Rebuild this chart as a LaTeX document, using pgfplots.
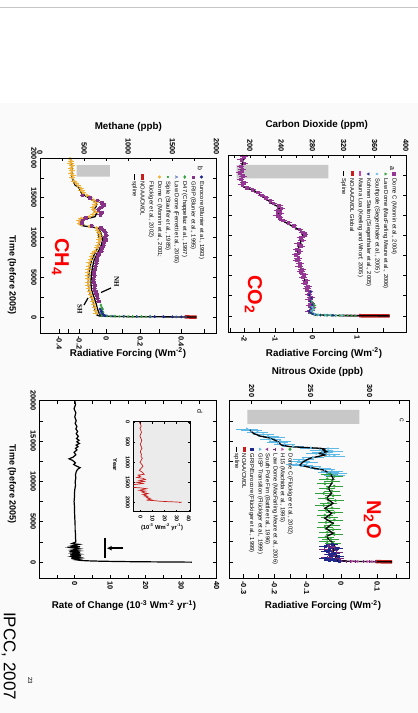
\documentclass[border=0pt]{standalone}
\usepackage{pgfplots}
\pgfplotsset{compat=1.18}
\usepackage{fontspec}
\setmainfont{Liberation Sans}
\newfontfamily\seriffont{Liberation Serif}
\usetikzlibrary{arrows.meta}
\definecolor{cpurple}{RGB}{150,55,150}
\definecolor{cgreen}{RGB}{50,160,60}
\definecolor{ccyan}{RGB}{95,185,230}
\definecolor{cdblue}{RGB}{30,40,140}
\definecolor{cmag}{RGB}{200,70,170}
\definecolor{cred}{RGB}{200,30,30}
\definecolor{corange}{RGB}{240,180,60}
\definecolor{cgpurple}{RGB}{135,50,135}
\definecolor{cblue}{RGB}{50,80,170}
\definecolor{npurple}{RGB}{120,40,120}
\definecolor{grayrect}{RGB}{200,200,200}
\newcommand\ftk{\bfseries\fontsize{7.4}{8}\selectfont}
\newcommand\flab{\bfseries\fontsize{9.8}{11}\selectfont}
\newcommand\ftlab{\bfseries\fontsize{9}{10}\selectfont}
\newcommand\flg{\fontsize{5.8}{6}\selectfont}
\newcommand\fbig{\bfseries\fontsize{20}{22}\selectfont}
\pgfplotsset{
  panel/.style={scale only axis, anchor=south west, ymin=-2000, ymax=20000,
    scaled ticks=false,
    tick align=inside, major tick length=3.5pt, minor tick length=3.5pt,
    ytick={0,5000,10000,15000,20000}, minor ytick={2500,7500,12500,17500},
    tick style={line width=0.6pt, black}, axis line style={line width=0.8pt},
    yticklabels={}, ytick pos=both, ticklabel style={font=\ftk}},
  rfaxis/.style={scale only axis, anchor=south west, ymin=-2000, ymax=20000, hide y axis,
    scaled ticks=false,
    xtick pos=left, xticklabel pos=left, tick align=inside, major tick length=3.5pt,
    minor tick length=3.5pt, tick style={line width=0.6pt,black}, axis line style={line width=0.8pt},
    xticklabel style={rotate=-90, anchor=west, font=\ftk}},
  timelabels/.style={yticklabels={0,5000,10000,15000,20000}, yticklabel style={rotate=-90, anchor=north}},
}
\begin{document}
\begin{tikzpicture}
\useasboundingbox (0,0) rectangle (418pt,713pt);
\fill[white] (0,0) rectangle (418pt,713pt);
\fill[black!2] (0,0) rectangle (418pt,610pt);
\draw[gray!45, line width=0.8pt] (0,706pt) -- (418pt,706pt);

% ================= CO2 =================
\begin{axis}[panel, at={(228pt,381pt)}, width=178pt, height=177pt,
  xmin=172, xmax=400, xtick={200,240,280,320,360,400}, xticklabels={200,240,280,320,360,400},
  minor xtick={180,220,260,300,340,380}, xtick pos=right, xticklabel pos=right,
  xticklabel style={rotate=-90, anchor=east}]
\addplot[fill=grayrect, draw=none] coordinates {(183.1,18758) (300.5,18758) (300.5,17105) (183.1,17105) (183.1,18758)};
\addplot[only marks, mark=square*, mark size=1.3pt, cpurple, error bars/.cd, x dir=both, x fixed=5, error mark=none, error bar style={line width=0.8pt}] coordinates {
(192,19800) (189,19400) (193,19000) (188,18600) (190,18200) (187,17800) (191,17400) (188,17000) (192,16600) (190,16300) (196,15950) (203,15700) (210,15400) (215,15000) (220,14700) (226,14300) (230,14000) (237,13700) (240,13400) (236,13100) (239,12800) (235,12500) (238,12200) (242,11900) (249,11600) (256,11200) (263,10800) (268,10400) (270,10100) (265,9700) (267,9400) (262,9000) (265,8700) (260,8300) (263,8000) (259,7600) (262,7200) (260,6900) (264,6500) (263,6200) (267,5800) (265,5500) (269,5100) (268,4800) (272,4400) (270,4100) (274,3700) (273,3400) (276,3000) (275,2700) (278,2300) (276,2000) (279,1600) (277,1300) (280,1000) (278,700) (276,500)};
\addplot[only marks, mark=triangle*, mark size=1.3pt, cgreen, mark options={rotate=-90}] coordinates {
(279,1800) (281,1500) (283,1300) (278,1100) (282,900) (280,700) (279,500) (277,400) (280,300) (283,200) (284,150) (287,120) (291,100) (296,90) (300,80) (305,70) (310,58) (315,50) (320,42) (325,35) (330,28) (335,22)};
\addplot[only marks, mark=triangle*, mark size=1.2pt, cdblue, mark options={rotate=90}] coordinates {
(278,3000) (276,2600) (279,2200) (277,1800) (280,1400) (278,1000) (276,600) (278,400) (281,250) (284,160) (290,105) (298,85) (306,65)};
\addplot[only marks, mark=asterisk, mark size=1.3pt, ccyan] coordinates {
(280,1100) (281,800) (279,600) (283,250) (288,150) (297,110) (303,95) (310,70) (318,48)};
\addplot[cmag, line width=2pt] coordinates {(316,47) (325,36) (331,30) (339,22) (346,17) (354,12) (361,8) (369,5) (375,2) (379,0)};
\addplot[cred, line width=3.5pt] coordinates {(340,21) (350,14) (360,9) (370,4) (379,0)};
\addplot[black, line width=1.3pt] coordinates {
(190.5,20000) (191.5,19500) (189.5,18500) (188.5,17800) (189.5,17300) (190,16800) (191.5,16100) (195,15900) (204,15650) (211,15250) (217,14820) (223,14400) (228,14000) (236,13580) (238.5,13200) (237,12800) (236.5,12330) (240.5,11920) (248,11500) (255.5,11090) (264,10680) (268.5,10270) (267,9800) (266,9430) (263.5,8800) (262,8190) (261,7500) (262,6950) (264,6300) (266.5,5700) (268.5,5000) (270.5,4460) (273,3800) (275,3220) (276,2600) (277,1980) (278.5,1500) (279.5,1150) (278.5,800) (277.5,520) (279,300) (281,200) (283,170) (285,140) (290,110) (296,95) (300,80) (311,55) (325,38) (338,25) (355,12) (370,4) (379,0)};
% legend markers
\addplot[only marks, mark=square*, mark size=1.3pt, cpurple] coordinates {(384.6,17639)};
\addplot[only marks, mark=triangle*, mark size=1.4pt, cgreen, mark options={rotate=-90}] coordinates {(373.7,17639)};
\addplot[only marks, mark=asterisk, mark size=1.4pt, ccyan] coordinates {(362.9,17639)};
\addplot[only marks, mark=triangle*, mark size=1.4pt, cdblue, mark options={rotate=90}] coordinates {(352.0,17639)};
\addplot[cmag, line width=1.8pt] coordinates {(341.5,17950) (341.5,17330)};
\addplot[cred, line width=3.2pt] coordinates {(331.1,17950) (331.1,17330)};
\addplot[black, line width=1.6pt] coordinates {(320.1,17950) (320.1,17330)};
\end{axis}
\begin{axis}[rfaxis, at={(228pt,381pt)}, width=178pt, height=177pt, xmin=172, xmax=400,
  xtick={192.7,232.3,280,337.5}, xticklabels={-2,-1,0,1}, minor xtick={175.4,211.6,255.0,307.4,370.5}]
\end{axis}

% ================= CH4 =================
\begin{axis}[panel, timelabels, at={(40pt,380pt)}, width=176.5pt, height=175pt,
  xmin=0, xmax=2000, xtick={0,500,1000,1500,2000}, xticklabels={0,500,1000,1500,2000},
  minor xtick={250,750,1250,1750}, xtick pos=right, xticklabel pos=right,
  xticklabel style={rotate=-90, anchor=east}]
\addplot[fill=grayrect, draw=none] coordinates {(416,19118) (793,19118) (793,17647) (416,17647) (416,19118)};
\addplot[only marks, mark=*, mark size=1.5pt, corange, error bars/.cd, x dir=both, x fixed=35, error mark=none, error bar style={line width=1pt}] coordinates {
(340,19900) (355,19600) (345,19300) (365,19000) (350,18700) (360,18400) (355,18100) (370,17800) (365,17500) (385,17100) (410,16800) (430,16500) (460,16200) (470,15900) (490,15600) (530,15300) (570,15000) (610,14700) (630,14400) (625,14100) (600,13800) (610,13500) (630,13200) (600,12900) (560,12600) (470,12400) (445,12100) (450,11800) (470,11600) (560,11400) (640,11200) (655,10900) (670,10600) (680,10300) (685,10000) (675,9700) (670,9400) (660,9000) (645,8700) (625,8300) (600,8000) (585,7600) (575,7200) (560,6800) (555,6400) (550,6000) (545,5600) (540,5200) (545,4800) (550,4400) (545,4000) (555,3600) (565,3200) (575,2800) (590,2400) (600,2000) (615,1600) (625,1200) (630,800) (640,500)};
\addplot[only marks, mark=square*, mark size=1.3pt, cgpurple, error bars/.cd, x dir=both, x fixed=30, error mark=none, error bar style={line width=0.8pt}] coordinates {
(480,15300) (560,15000) (650,14700) (700,14400) (720,14100) (690,13800) (660,13500) (700,13200) (680,12900) (520,12500) (480,12200) (470,11900) (580,11500) (690,11200) (720,10900) (740,10600) (750,10300) (730,10000) (745,9700) (720,9400) (715,9000) (700,8700) (690,8300) (665,8000) (650,7600) (640,7200) (635,6800) (625,6400) (620,6000) (610,5600) (615,5200) (605,4800) (610,4400) (620,4000) (615,3600) (630,3200) (640,2800) (650,2400) (665,2000)};
\addplot[only marks, mark=diamond*, mark size=1.3pt, cgreen] coordinates {
(690,1500) (700,1200) (710,1000) (695,800) (715,600) (705,400) (720,300) (700,200) (760,150) (850,110) (950,85) (1050,70) (1150,60) (1250,50)};
\addplot[only marks, mark=*, mark size=0.9pt, cgreen] coordinates {(800,100) (900,80) (1000,65) (1100,55) (1200,45)};
\addplot[only marks, mark=triangle, mark size=1.3pt, cblue, mark options={rotate=-90}] coordinates {
(690,900) (700,700) (680,500) (720,250) (750,180) (820,120) (950,90) (1100,70) (1250,55) (1400,40) (1550,28) (1650,18)};
\addplot[only marks, mark=*, mark size=1.2pt, cdblue] coordinates {(680,1000) (695,700) (710,400) (730,200) (1300,50) (1400,45) (1500,35) (1600,25)};
\addplot[cred, line width=3.5pt] coordinates {(1640,20) (1700,10) (1775,0)};
\addplot[black, line width=1.3pt] coordinates {
(345,20000) (355,19400) (360,18900) (362,18300) (360,17650) (375,17200) (397,16600) (440,16300) (455,16000) (472,15560) (520,15200) (567,14930) (623,14500) (642,14200) (635,13880) (604,13460) (642,13050) (623,12620) (560,12450) (470,12250) (453,12000) (455,11600) (500,11450) (600,11300) (661,11160) (690,10530) (709,9690) (700,9200) (690,8850) (652,8020) (614,7180) (596,6330) (582,5300) (577,4250) (585,3400) (610,2560) (635,1730) (655,890) (680,263) (700,150) (740,120) (820,90) (920,70) (1020,55) (1170,45) (1320,35) (1520,22) (1660,12) (1774,0)};
\addplot[black, line width=1.3pt] coordinates {
(661,11160) (660,10530) (679,9690) (670,9200) (660,8850) (622,8020) (584,7180) (566,6330) (552,5300) (547,4250) (555,3400) (580,2560) (605,1730) (625,890) (645,263) (670,150) (700,120)};
% legend markers
\addplot[only marks, mark=*, mark size=1.4pt, cdblue] coordinates {(1830,17609)};
\addplot[only marks, mark=square*, mark size=1.3pt, cgpurple] coordinates {(1735,17609)};
\addplot[only marks, mark=diamond*, mark size=1.5pt, cgreen] coordinates {(1640,17609)};
\addplot[only marks, mark=triangle, mark size=1.5pt, cblue, mark options={rotate=-90}] coordinates {(1544,17609)};
\addplot[only marks, mark=*, mark size=0.9pt, cgreen] coordinates {(1449,17609)};
\addplot[only marks, mark=*, mark size=1.4pt, corange] coordinates {(1354,17609)};
\addplot[cred, line width=3.2pt] coordinates {(1164,17950) (1164,17270)};
\addplot[black, line width=1.6pt] coordinates {(1069,17950) (1069,17270)};
\end{axis}
\begin{axis}[rfaxis, at={(40pt,380pt)}, width=176.5pt, height=175pt, xmin=0, xmax=2000,
  xtick={218.6,444.6,750,1134.7,1598.9}, xticklabels={-0.4,-0.2,0,0.2,0.4}, minor xtick={321.7,587.4,932.4,1356.9,1860.7}]
\end{axis}

% ================= N2O =================
\begin{axis}[panel, at={(229pt,135pt)}, width=180pt, height=177.3pt,
  xmin=180.8, xmax=333.3, xtick={200,250,300}, xticklabels={200,250,300},
  minor xtick={225,275,325}, xtick pos=right, xticklabel pos=right,
  xticklabel style={rotate=-90, anchor=east}]
\addplot[fill=grayrect, draw=none] coordinates {(196.3,18849) (291.2,18849) (291.2,17111) (196.3,17111) (196.3,18849)};
\addplot[only marks, mark=triangle*, mark size=1.3pt, ccyan, mark options={rotate=-90}, error bars/.cd, x dir=both, x fixed=9, error mark=none, error bar style={line width=0.6pt}] coordinates {
(196,16500) (200,16300) (205,16100) (210,15800) (214,15600) (219,15400) (216,15200) (224,15000) (222,14800) (228,14600) (235,14350) (250,14150) (265,14050) (258,13900) (268,13750) (260,13600) (255,13450) (266,13300) (270,13150) (252,12950) (244,12700) (240,12500) (247,12300) (238,12100) (243,11950) (250,11800) (258,11600) (262,11450) (268,11250) (265,11100) (272,10950) (270,10800)};
\addplot[only marks, mark=*, mark size=1.2pt, cgreen, error bars/.cd, x dir=both, x fixed=7, error mark=none, error bar style={line width=0.6pt}] coordinates {
(266,10900) (270,10600) (264,10300) (268,10000) (262,9700) (270,9400) (264,9100) (268,8800) (261,8500) (269,8200) (263,7900) (271,7600) (265,7300) (261,7000) (268,6700) (263,6400) (270,6100) (262,5800) (266,5500) (270,5200) (263,4900) (268,4600) (262,4300) (269,4000) (264,3700) (270,3400) (263,3100) (267,2800) (264,2500) (269,2300)};
\addplot[only marks, mark=+, mark size=1.4pt, npurple, thick, error bars/.cd, x dir=both, x fixed=5, error mark=none] coordinates {
(265,2000) (270,1800) (262,1600) (268,1400) (272,1200) (266,1000) (270,800) (264,600) (273,500) (268,400) (271,300) (275,200) (270,150) (276,120) (280,90) (284,75) (288,60) (295,45) (300,35) (305,25)};
\addplot[only marks, mark=square*, mark size=1.1pt, cdblue, error bars/.cd, x dir=both, x fixed=5, error mark=none] coordinates {
(268,2200) (262,1900) (272,1700) (266,1500) (264,1300) (270,1100) (267,900) (273,700) (262,500) (269,350) (271,250) (266,200) (274,100)};
\addplot[only marks, mark=triangle*, mark size=1.2pt, cmag, mark options={rotate=-90}] coordinates {(285,70) (290,55) (298,40) (302,30)};
\addplot[cred, line width=3.5pt] coordinates {(305,25) (312,12) (319,0)};
\addplot[black, line width=1.3pt] coordinates {
(198.6,16370) (201.4,15960) (207,15620) (214,15410) (218,15210) (222.5,14915) (225,14505) (232.5,14294) (258,14096) (262,14000) (260.7,13885) (263.6,13674) (257.9,13475) (262,13264) (249.4,12855) (243.7,12433) (241,12023) (246.6,11812) (260.7,11403) (266.4,10993) (269,10373) (267.8,9752) (265,9132) (267.8,8511) (263.3,7891) (269,7270) (262,6650) (267.8,6029) (262,5409) (269,4788) (263,4168) (269,3547) (263,3125) (267.8,2504) (270.6,1884) (269,1264) (272,643) (270,270) (273,150) (280,90) (290,55) (300,35) (310,18) (317,5) (319,0)};
% legend markers
\addplot[only marks, mark=*, mark size=1.4pt, cgreen] coordinates {(232.5,13972)};
\addplot[only marks, mark=triangle*, mark size=1.4pt, cmag, mark options={rotate=-90}] coordinates {(225.9,13972)};
\addplot[only marks, mark=+, mark size=1.5pt, npurple, thick] coordinates {(219.7,13972)};
\addplot[only marks, mark=triangle*, mark size=1.4pt, cpurple, mark options={rotate=90}] coordinates {(213.2,13972)};
\addplot[only marks, mark=triangle*, mark size=1.4pt, ccyan, mark options={rotate=-90}] coordinates {(207.0,13972)};
\addplot[only marks, mark=square*, mark size=1.3pt, cdblue] coordinates {(200.0,13972)};
\addplot[cred, line width=3.2pt] coordinates {(193.7,14300) (193.7,13640)};
\addplot[black, line width=1.6pt] coordinates {(187.3,14300) (187.3,13640)};
\end{axis}
\begin{axis}[rfaxis, at={(229pt,135pt)}, width=180pt, height=177.3pt, xmin=180.8, xmax=333.3,
  xtick={193.3,219.2,246.6,275.7,306.4}, xticklabels={-0.3,-0.2,-0.1,0,0.1}, minor xtick={206.0,232.7,260.95,290.8,322.3}]
\end{axis}

% ================= Rate of change =================
\begin{axis}[panel, timelabels, at={(39.3pt,134.7pt)}, width=177.4pt, height=177.6pt,
  xmin=-10, xmax=40, xtick={0,10,20,30,40}, xticklabels={0,10,20,30,40},
  minor xtick={-5,5,15,25,35}, xtick pos=both, xticklabel pos=left,
  xticklabel style={rotate=-90, anchor=west}]
\addplot[black, line width=1.2pt] coordinates {
(0,20000) (0.2,19500) (-0.2,19000) (0.3,18500) (0,18000) (0.4,17500) (0.1,17200) (0.6,16800) (0.3,16500) (0.8,16200) (0.4,15900) (1.0,15600) (0.5,15300) (1.2,15100) (0.6,14900) (1.3,14700) (0.4,14500) (0.9,14300) (0.2,14100) (0.6,13900) (-0.2,13600) (0.3,13300) (-0.5,13000) (-1.6,12800) (-0.6,12600) (0.2,12300) (-0.3,12100) (0.5,11900) (1.5,11700) (0.8,11500) (0.4,11200) (0.2,10800) (0.3,10400) (0.1,10000) (0.2,9500) (0,9000) (-0.1,8500) (-0.1,8000) (-0.2,7500) (-0.1,7000) (-0.1,6500) (-0.05,6000) (0,5500) (0.05,5000) (0.1,4500) (0.1,4000) (0.2,3500) (0.2,3000) (0.3,2500) (-0.8,2300) (1.2,2200) (-1,2000) (1.5,1900) (-1.2,1800) (1.3,1650) (-0.8,1500) (1.0,1400) (-1.5,1300) (1.5,1200) (-0.5,1100) (1.2,1000) (-1.3,900) (1.8,800) (-0.6,700) (1.2,600) (-1.0,500) (1.5,400) (0.2,300) (1.0,250) (2,200) (4,160) (7,120) (12,80) (18,50) (25,25) (30,10) (33,0)};
\draw[line width=1.8pt] (axis cs:8.5,2970) -- (axis cs:8.5,480);
\draw[-{Latex[length=5pt,width=5pt]}, line width=1.5pt] (axis cs:13.7,1730) -- (axis cs:9.0,1730);
\end{axis}
\begin{axis}[scale only axis, anchor=south west, at={(133.3pt,201.3pt)}, width=56.7pt, height=90pt,
  xmin=-6, xmax=41, ymin=-15, ymax=2235, y dir=reverse, scaled ticks=false,
  axis background/.style={fill=gray!16},
  tick align=inside, major tick length=2pt, tick style={line width=0.5pt, black},
  axis line style={line width=0.7pt},
  xtick={0,10,20,30,40}, xticklabels={0,10,20,30,40},
  ytick={0,500,1000,1500,2000}, yticklabels={0,500,1000,1500,2000},
  xtick pos=both, ytick pos=both, xticklabel pos=left, yticklabel pos=left,
  xticklabel style={rotate=-90, anchor=west, font=\bfseries\fontsize{5.5}{6}\selectfont},
  yticklabel style={rotate=-90, anchor=north, font=\bfseries\fontsize{5.5}{6}\selectfont}]
\addplot[cred, line width=0.7pt] coordinates {
(-1,0) (0,50) (0.5,100) (-0.5,150) (0.2,200) (0.8,250) (0,300) (-0.5,350) (0.3,400) (1,450) (0.5,500) (-0.3,550) (0.5,600) (1.2,650) (0.2,700) (-0.2,750) (0.8,800) (0.3,850) (1.5,900) (0.5,950) (-0.5,1000) (1.0,1050) (2,1100) (0.5,1150) (-1,1200) (1.5,1250) (3,1300) (-2,1320) (0,1350) (-3,1380) (2,1400) (4,1430) (-1,1450) (3,1480) (-3,1500) (2,1530) (-6,1560) (-10,1600) (-9,1620) (0,1640) (5,1660) (2,1680) (-1,1700) (4,1720) (1,1740) (3,1760) (6,1780) (2,1800) (5,1820) (3,1840) (6,1860) (5,1880) (8,1900) (6,1920) (9,1940) (7,1950) (12,1960) (15,1970) (20,1980) (28,1990) (34,2000) (32,2005)};
\end{axis}

% ================= texts =================
\node[font=\flab] at (316.7pt,588pt) {Carbon Dioxide (ppm)};
\node[font=\flab] at (128.3pt,586.3pt) {Methane (ppb)};
\node[font=\flab] at (324pt,360pt) {Radiative Forcing (Wm\textsuperscript{-2})};
\node[font=\flab] at (128pt,360pt) {Radiative Forcing (Wm\textsuperscript{-2})};
\node[font=\flab] at (317.5pt,341.3pt) {Nitrous Oxide (ppb)};
\node[font=\flab] at (323pt,107.5pt) {Radiative Forcing (Wm\textsuperscript{-2})};
\node[font=\flab] at (124pt,107.5pt) {Rate of Change (10\textsuperscript{-3} Wm\textsuperscript{-2} yr\textsuperscript{-1})};
\node[font=\ftlab, rotate=-90] at (12pt,438pt) {Time (before 2005)};
\node[font=\ftlab, rotate=-90] at (12pt,229pt) {Time (before 2005)};
% big labels
\node[font=\fbig, text=red, rotate=-90, anchor=base west] at (248pt,441pt) {CO\textsubscript{2}};
\node[font=\fbig, text=red, rotate=-90, anchor=base west] at (55pt,478pt) {CH\textsubscript{4}};
\node[font=\fbig, text=red, rotate=-90, anchor=base west] at (367pt,216pt) {N\textsubscript{2}O};
% panel letters
\node[font=\fontsize{7}{7}\selectfont, rotate=-90] at (392pt,545pt) {a};
\node[font=\fontsize{7}{7}\selectfont, rotate=-90] at (200.5pt,545pt) {b};
\node[font=\fontsize{7}{7}\selectfont, rotate=-90] at (401.7pt,293pt) {c};
\node[font=\fontsize{7}{7}\selectfont, rotate=-90] at (200pt,301.3pt) {d};
% legends
\begin{scope}[every node/.style={font=\flg, rotate=-90, anchor=west, inner sep=0.5pt}]
\node at (394pt,535pt) {Dome C (Monnin et al., 2004)};
\node at (385.5pt,535pt) {Law Dome (MacFarling Meure et al., 2006)};
\node at (377pt,535pt) {Southpole (Siegenthaler et al., 2005)};
\node at (368.5pt,535pt) {Kohnen Station (Siegenthaler et al., 2005)};
\node at (360.3pt,535pt) {Mauna Loa (Keeling and Whorf, 2005)};
\node at (352.2pt,535pt) {NOAA/CMDL Global};
\node at (343.6pt,535pt) {Spline};
\node at (201.5pt,532pt) {Eurocore (Blunier et al., 1993)};
\node at (193.1pt,532pt) {GRIP (Blunier et al., 1995)};
\node at (184.7pt,532pt) {D47 (Chappellaz et al., 1997)};
\node at (176.3pt,532pt) {Law Dome (Ferretti et al., 2005)};
\node at (167.9pt,532pt) {Siple (Stauffer et al., 1985)};
\node at (159.5pt,532pt) {Dome C (Monnin et al., 2001;};
\node at (151.1pt,532pt) {Flückiger et al., 2002)};
\node at (142.7pt,532pt) {NOAA/CMDL};
\node at (134.3pt,532pt) {spline};
\node at (290pt,259.7pt) {Dome C (Flückiger et al., 2002)};
\node at (282.3pt,259.7pt) {H15 (Machida et al., 1995)};
\node at (275pt,259.7pt) {Law Dome (MacFarling Meure et al., 2006)};
\node at (267.3pt,259.7pt) {South Pole Firn (Battle et al., 1996)};
\node at (260pt,259.7pt) {GISP Transition (Flückiger et al., 1999)};
\node at (251.7pt,259.7pt) {GRIP/Eurocore (Flückiger et al., 1999)};
\node at (244.3pt,259.7pt) {NOAA/CMDL};
\node at (236.7pt,259.7pt) {spline};
\end{scope}
% NH / SH
\node[font=\seriffont\bfseries\fontsize{7}{7}\selectfont, rotate=-90] at (116.7pt,431.3pt) {NH};
\node[font=\seriffont\bfseries\fontsize{7}{7}\selectfont, rotate=-90] at (80pt,403.7pt) {SH};
\draw[line width=1.2pt] (111pt,425pt) -- (101pt,420.5pt);
\draw[line width=1.2pt] (88pt,415pt) -- (84pt,408pt);
% Inset labels
\node[font=\bfseries\fontsize{5.8}{6}\selectfont, rotate=-90] at (115pt,248pt) {Year};
\node[font=\bfseries\fontsize{5.8}{6}\selectfont] at (162pt,186pt) {(10\textsuperscript{-3} Wm\textsuperscript{-2} yr\textsuperscript{-1})};
% IPCC
\node[rotate=-90, anchor=base west, font=\fontsize{17}{18}\selectfont, inner sep=0pt] at (4pt,101pt) {IPCC, 2007};
\node[rotate=-90, anchor=base west, font=\fontsize{6}{6}\selectfont, inner sep=0pt] at (28pt,36pt) {23};
\end{tikzpicture}
\end{document}
